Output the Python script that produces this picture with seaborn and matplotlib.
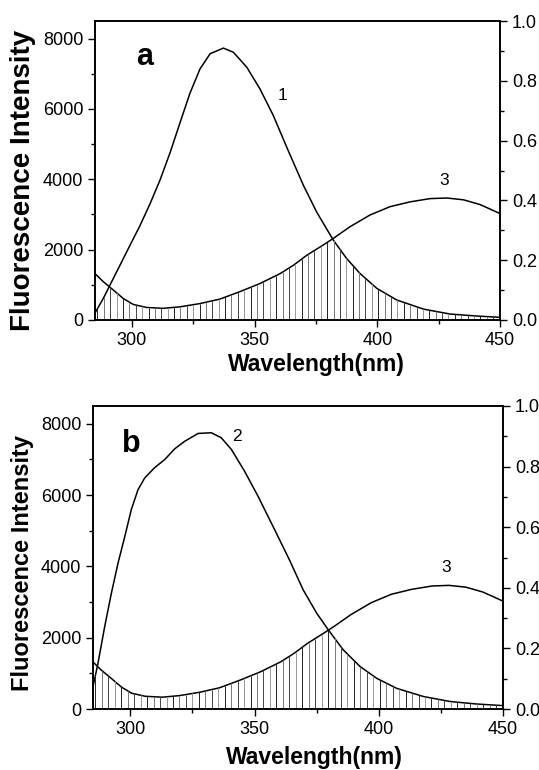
import numpy as np
import pandas as pd
import seaborn as sns
import matplotlib.pyplot as plt

sns.set_style("ticks")
plt.rcParams['font.family'] = ['Liberation Sans', 'DejaVu Sans']
plt.rcParams['text.color'] = 'black'
plt.rcParams['axes.labelcolor'] = 'black'
plt.rcParams['axes.edgecolor'] = 'black'
plt.rcParams['xtick.color'] = 'black'
plt.rcParams['ytick.color'] = 'black'

# curve 1 (panel a) - donor fluorescence
wl_1 = [285, 288.4, 291.1, 295.2, 299.3, 303.3, 307.4, 311.5, 315.6, 319.6, 323.7,
        327.8, 331.9, 337.3, 341.4, 346.8, 352.2, 357.6, 363.5, 369.9, 375.3, 382.1,
        387.5, 393.0, 399.8, 407.9, 418.8, 429.6, 440.5, 450]
fl_1 = [200, 615, 993, 1560, 2130, 2680, 3300, 3980, 4760, 5600, 6450,
        7140, 7570, 7730, 7610, 7190, 6570, 5820, 4850, 3830, 3070, 2270,
        1750, 1320, 900, 570, 310, 170, 113, 76]

# curve 2 (panel b) - donor fluorescence, shoulder near 305 nm
wl_2 = [285, 287, 289.7, 292.4, 295.1, 297.8, 300.4, 303.1, 305.8, 309.8, 313.9,
        317.9, 321.9, 327.3, 332.6, 336.6, 340.7, 346, 351.4, 358.1, 364, 369.6,
        375, 379.7, 385.7, 392.5, 399.2, 407.2, 418, 428.7, 439.4, 450]
fl_2 = [627, 1280, 2310, 3250, 4100, 4840, 5590, 6150, 6480, 6770, 7000,
        7300, 7510, 7730, 7750, 7610, 7280, 6670, 5970, 5030, 4190, 3340,
        2690, 2220, 1660, 1190, 860, 580, 350, 210, 140, 95]

# curve 3 - acceptor absorbance (right axis, 0-1)
wl_3 = [285, 288.4, 292.5, 296.5, 300.6, 306, 312.8, 319.6, 327.8, 335.9, 344.1,
        352.2, 360.4, 366, 371.2, 378, 382.1, 388.9, 397, 405.2, 413.3, 421.5,
        428.3, 435.1, 441.9, 450]
ab_3 = [0.155, 0.128, 0.100, 0.072, 0.052, 0.042, 0.039, 0.044, 0.055, 0.070, 0.095,
        0.122, 0.155, 0.184, 0.216, 0.251, 0.273, 0.312, 0.351, 0.379, 0.395, 0.406,
        0.408, 0.402, 0.386, 0.356]

RIGHT_TO_LEFT = 8500.0
hatch_x = np.arange(286, 450, 2.6)


def panel(ax, wl_f, fl_f, flabel, fpos, letter, letter_pos, ylab_size, ylab_xy, xlab_xy):
    d1 = pd.DataFrame({'wl': wl_f, 'val': fl_f})
    d3 = pd.DataFrame({'wl': wl_3, 'val': np.array(ab_3) * RIGHT_TO_LEFT})
    sns.lineplot(data=d1, x='wl', y='val', ax=ax, color='black', lw=1.1)
    sns.lineplot(data=d3, x='wl', y='val', ax=ax, color='black', lw=1.1)
    # overlap region hatched with vertical lines
    top = np.minimum(np.interp(hatch_x, wl_f, fl_f),
                     np.interp(hatch_x, wl_3, d3['val']))
    cols = ['#222222', '#777777', '#444444', '#999999']
    ax.vlines(hatch_x, 0, top, colors=[cols[i % 4] for i in range(len(hatch_x))], lw=0.7)

    ax.set_xlim(285, 450)
    ax.set_ylim(0, 8500)
    ax.set_xticks([300, 350, 400, 450])
    ax.set_xticks([325, 375, 425], minor=True)
    ax.set_yticks([0, 2000, 4000, 6000, 8000])
    ax.set_yticks([1000, 3000, 5000, 7000], minor=True)
    ax.tick_params(axis='both', which='major', length=5, width=1, labelsize=13, direction='out')
    ax.tick_params(axis='both', which='minor', length=3, width=1, direction='out')
    ax.set_xlabel('Wavelength(nm)', fontsize=16.5, fontweight='bold')
    ax.set_ylabel('Fluorescence Intensity', fontsize=ylab_size, fontweight='bold')
    ax.xaxis.set_label_coords(*xlab_xy)
    ax.xaxis.label.set_va('center')
    ax.yaxis.set_label_coords(*ylab_xy)
    ax.yaxis.label.set_va('center')
    for s in ax.spines.values():
        s.set_visible(True)
        s.set_linewidth(1.2)

    ax2 = ax.twinx()
    ax2.set_ylim(0, 1.0)
    ax2.set_yticks([0.0, 0.2, 0.4, 0.6, 0.8, 1.0])
    ax2.set_yticklabels(['0.0', '0.2', '0.4', '0.6', '0.8', '1.0'])
    ax2.set_yticks([0.1, 0.3, 0.5, 0.7, 0.9], minor=True)
    ax2.tick_params(axis='y', which='major', length=5, width=1, labelsize=13, direction='out')
    ax2.tick_params(axis='y', which='minor', length=3, width=1, direction='out')
    for s in ax2.spines.values():
        s.set_linewidth(1.2)

    ax.text(fpos[0], fpos[1], flabel, fontsize=12.5, ha='center', va='center')
    ax.text(427.2, 3960, '3', fontsize=12.5, ha='center', va='center')
    ax.text(letter_pos[0], letter_pos[1], letter, fontsize=22, fontweight='bold',
            ha='center', va='center')


fig = plt.figure(figsize=(5.39, 7.70), dpi=100)
W, H = 539.0, 770.0
ax_a = fig.add_axes([95 / W, 1 - 320 / H, 405 / W, 299 / H])
ax_b = fig.add_axes([93 / W, 1 - 709 / H, 410 / W, 303 / H])

panel(ax_a, wl_1, fl_1, '1', (361.5, 6380), 'a', (305.4, 7470),
      20, (-0.178, 0.468), (0.546, -0.1505))
panel(ax_b, wl_2, fl_2, '2', (343.1, 7650), 'b', (300.4, 7420),
      17, (-0.171, 0.483), (0.541, -0.1617))

fig.savefig('out.png', dpi=100)
